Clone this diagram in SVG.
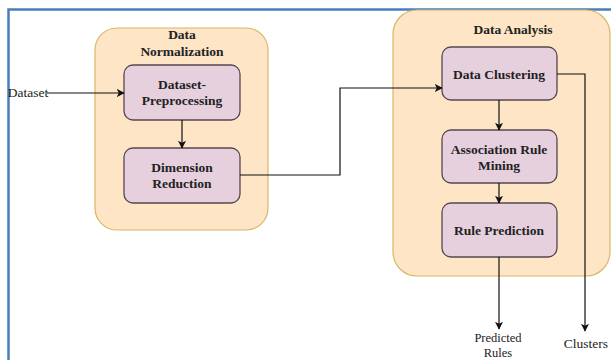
<svg xmlns="http://www.w3.org/2000/svg" width="611" height="360" viewBox="0 0 611 360">
<style>
.frame{fill:none;stroke:#4a7ebb;stroke-width:2.5}
.group{fill:#fde5c5;stroke:#d9b766;stroke-width:1.2}
.box{fill:#e6d0de;stroke:#56474f;stroke-width:1.3}
.t{font-family:"Liberation Serif",serif;font-size:13.5px;font-weight:bold;fill:#222;text-anchor:middle}
.l{font-family:"Liberation Serif",serif;font-size:13.5px;fill:#222;text-anchor:middle}
.s{font-size:12.5px}
.c{fill:none;stroke:#111;stroke-width:1.2}
</style>
<defs>
<marker id="ah" viewBox="0 0 10 10" refX="9" refY="5" markerWidth="8" markerHeight="8" markerUnits="userSpaceOnUse" orient="auto">
<path d="M0,0 L10,5 L0,10 L2.5,5 Z" fill="#111"/>
</marker>
</defs>
<rect width="611" height="360" fill="#fff"/>
<path class="frame" d="M8.5,362 V9.5 H612"/>
<g id="data-normalization">
<rect class="group" x="95" y="28" width="173" height="202" rx="22"/>
<text class="t" x="182" y="39">Data</text>
<text class="t" x="182" y="56">Normalization</text>
</g>
<g id="data-analysis">
<rect class="group" x="393" y="10" width="217" height="266" rx="24"/>
<text class="t" x="513" y="34">Data Analysis</text>
</g>
<g id="dataset-preprocessing">
<rect class="box" x="124" y="65" width="116" height="55" rx="9"/>
<text class="t" x="182" y="89">Dataset-</text>
<text class="t" x="182" y="105">Preprocessing</text>
</g>
<g id="dimension-reduction">
<rect class="box" x="124" y="148" width="116" height="55" rx="9"/>
<text class="t" x="182" y="172">Dimension</text>
<text class="t" x="182" y="188">Reduction</text>
</g>
<g id="data-clustering">
<rect class="box" x="442" y="47" width="115" height="53" rx="9"/>
<text class="t" x="499" y="79">Data Clustering</text>
</g>
<g id="association-rule-mining">
<rect class="box" x="442" y="130" width="115" height="53" rx="9"/>
<text class="t" x="499" y="154">Association Rule</text>
<text class="t" x="499" y="170">Mining</text>
</g>
<g id="rule-prediction">
<rect class="box" x="442" y="203" width="115" height="54" rx="9"/>
<text class="t" x="499" y="235">Rule Prediction</text>
</g>
<g id="labels">
<text class="l" x="28" y="97">Dataset</text>
<text class="l s" x="498" y="342">Predicted</text>
<text class="l s" x="498" y="356.5">Rules</text>
<text class="l" x="586" y="348">Clusters</text>
</g>
<g id="connectors">
<path class="c" d="M47,93 H124" marker-end="url(#ah)"/>
<path class="c" d="M182,120 V148" marker-end="url(#ah)"/>
<path class="c" d="M240,175 H340 V88 H442" marker-end="url(#ah)"/>
<path class="c" d="M499,100 V130" marker-end="url(#ah)"/>
<path class="c" d="M499,183 V203" marker-end="url(#ah)"/>
<path class="c" d="M499,257 V329" marker-end="url(#ah)"/>
<path class="c" d="M557,74 H585 V331" marker-end="url(#ah)"/>
</g>
</svg>
